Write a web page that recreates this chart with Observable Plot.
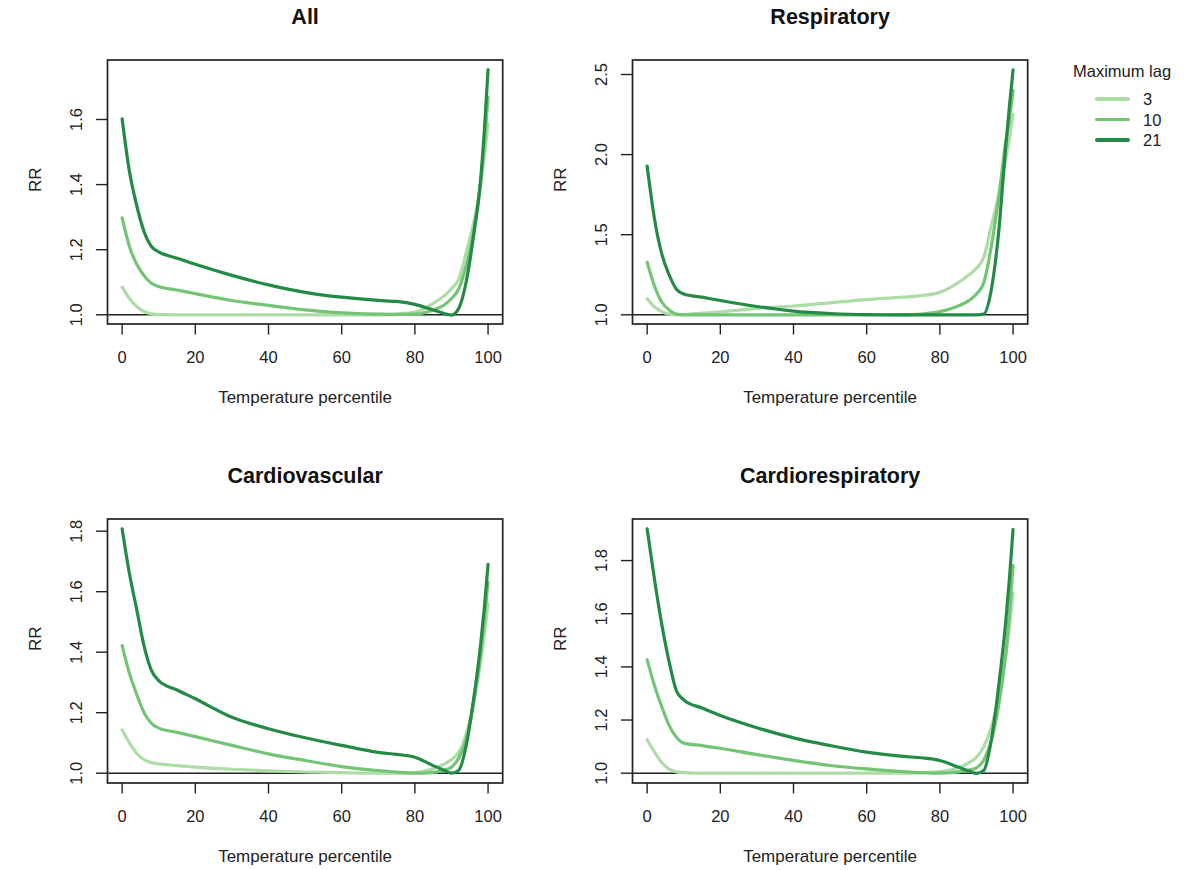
<!DOCTYPE html>
<html><head><meta charset="utf-8">
<script src="https://cdn.jsdelivr.net/npm/d3@7"></script>
<script src="https://cdn.jsdelivr.net/npm/@observablehq/plot@0.6"></script>
<style>
body{margin:0;background:#fff;font-family:"Liberation Sans",Arial,sans-serif;}
#wrap{position:relative;width:1204px;height:870px;overflow:hidden;background:#fff;}
.panel{position:absolute;}
.legend{position:absolute;left:1060px;top:62px;width:140px;color:#222;font-size:16.5px;}
.legend .ttl{position:absolute;left:13px;top:0;white-space:nowrap;}
.legend .row{position:absolute;left:35px;height:20px;}
.legend .sw{position:absolute;left:0;top:8px;width:35px;height:3.5px;border-radius:2px;}
.legend .lb{position:absolute;left:48px;top:0;line-height:20px;}
</style></head><body><div id="wrap"></div>
<script>
// ---- data ----
const pct = [0,2,4,6,8,10,15,20,30,40,50,60,70,75,80,85,88,90,92,94,96,98,99,100];
const lags = ["3","10","21"];
const lagColors = ["#aedca6","#74c476","#238b45"];
const panelTitles = ["All","Respiratory","Cardiovascular","Cardiorespiratory"];
const xTicks = [0,20,40,60,80,100];

const all_lag3  = [1.085,1.05,1.025,1.01,1.003,1.001,1.0,1.0,1.0,1.0,1.0,1.0,1.0,1.002,1.008,1.035,1.058,1.08,1.11,1.19,1.28,1.40,1.49,1.587];
const all_lag10 = [1.298,1.21,1.155,1.12,1.097,1.087,1.076,1.065,1.044,1.029,1.015,1.006,1.002,1.001,1.002,1.015,1.03,1.05,1.08,1.15,1.25,1.41,1.53,1.668];
const all_lag21 = [1.602,1.44,1.335,1.255,1.21,1.193,1.174,1.155,1.121,1.092,1.069,1.054,1.044,1.041,1.032,1.015,1.004,0.999,1.02,1.10,1.24,1.42,1.57,1.753];

const resp_lag3  = [1.10,1.05,1.02,1.005,1.0,1.002,1.01,1.018,1.04,1.055,1.075,1.095,1.11,1.12,1.14,1.2,1.25,1.29,1.36,1.55,1.74,1.97,2.1,2.25];
const resp_lag10 = [1.328,1.18,1.08,1.03,1.005,1.0,1.0,1.0,1.0,1.0,1.0,1.0,1.0,1.005,1.02,1.055,1.09,1.13,1.2,1.42,1.72,2.08,2.22,2.40];
const resp_lag21 = [1.928,1.6,1.38,1.25,1.16,1.13,1.11,1.089,1.052,1.023,1.008,1.001,1.0,1.0,1.0,1.0,1.0,1.0,1.005,1.15,1.5,2.05,2.3,2.529];

const cardio_lag3  = [1.143,1.1,1.065,1.045,1.035,1.031,1.025,1.02,1.013,1.008,1.004,1.002,1.0,1.0,1.002,1.015,1.03,1.045,1.07,1.13,1.23,1.37,1.46,1.56];
const cardio_lag10 = [1.422,1.33,1.26,1.2,1.165,1.149,1.135,1.121,1.092,1.064,1.042,1.022,1.009,1.004,1.0,1.003,1.01,1.02,1.05,1.11,1.23,1.4,1.51,1.631];
const cardio_lag21 = [1.808,1.66,1.54,1.42,1.34,1.306,1.275,1.246,1.185,1.147,1.117,1.092,1.069,1.062,1.053,1.025,1.01,1.0,1.01,1.09,1.24,1.43,1.55,1.69];

const cr_lag3  = [1.126,1.08,1.04,1.015,1.005,1.002,1.0,1.0,1.0,1.0,1.0,1.0,1.0,1.002,1.006,1.02,1.04,1.06,1.1,1.17,1.28,1.44,1.55,1.677];
const cr_lag10 = [1.427,1.33,1.25,1.18,1.135,1.113,1.104,1.094,1.07,1.048,1.029,1.016,1.006,1.002,1.0,1.005,1.012,1.02,1.05,1.12,1.25,1.45,1.6,1.781];
const cr_lag21 = [1.919,1.73,1.56,1.42,1.31,1.276,1.245,1.217,1.171,1.133,1.104,1.079,1.063,1.058,1.048,1.023,1.008,0.999,1.01,1.12,1.32,1.57,1.73,1.917];

const yTicksAll = [1.0,1.2,1.4,1.6];
const yTicksResp = [1.0,1.5,2.0,2.5];
const yTicksCardio = [1.0,1.2,1.4,1.6,1.8];
const yTicksCR = [1.0,1.2,1.4,1.6,1.8];

const yDomAll = [0.9717,1.7828];
const yDomResp = [0.9426,2.5905];
const yDomCardio = [0.9676,1.8403];
const yDomCR = [0.9631,1.9564];

// ---- build ----
const panels = [
  {series:[all_lag3,all_lag10,all_lag21], ticks:yTicksAll, dom:yDomAll, left:0, top:0},
  {series:[resp_lag3,resp_lag10,resp_lag21], ticks:yTicksResp, dom:yDomResp, left:525.1, top:0},
  {series:[cardio_lag3,cardio_lag10,cardio_lag21], ticks:yTicksCardio, dom:yDomCardio, left:0, top:459},
  {series:[cr_lag3,cr_lag10,cr_lag21], ticks:yTicksCR, dom:yDomCR, left:525.1, top:459}
];
const wrap = document.getElementById("wrap");
const ink = "#222";
panels.forEach((p, i) => {
  const rows = [];
  p.series.forEach((vals, j) => vals.forEach((v, k) => rows.push({x: pct[k], rr: v, lag: lags[j]})));
  const chart = Plot.plot({
    width: 526, height: 435,
    marginLeft: 107, marginRight: 23.8, marginTop: 59.5, marginBottom: 111.5,
    style: {background: "transparent", overflow: "visible", fontFamily: "'Liberation Sans', Arial, sans-serif", color: ink},
    x: {domain: [-4, 104]},
    y: {domain: p.dom},
    color: {domain: lags, range: lagColors},
    marks: [
      Plot.ruleY([1], {stroke: ink, strokeWidth: 1.4}),
      Plot.line(rows, {x: "x", y: "rr", z: "lag", stroke: "lag", strokeWidth: 3.2, curve: "monotone-x"}),
      Plot.frame({stroke: ink, strokeWidth: 1.7}),
      Plot.axisX({ticks: xTicks, tickSize: 11, tickPadding: 16, fontSize: 16.5, label: null, color: ink, strokeWidth: 1.4}),
      Plot.axisY({ticks: p.ticks, tickSize: 11, tickRotate: -90, tickPadding: 14.5, fontSize: 16.5, tickFormat: d3.format(".1f"), label: null, color: ink, strokeWidth: 1.4}),
      Plot.text(["Temperature percentile"], {frameAnchor: "bottom", lineAnchor: "middle", dy: 73.5, text: d => d, fontSize: 17, fill: ink}),
      Plot.text(["RR"], {frameAnchor: "left", lineAnchor: "middle", dx: -72, rotate: -90, text: d => d, fontSize: 17, fill: ink}),
      Plot.text([panelTitles[i]], {frameAnchor: "top", lineAnchor: "middle", dy: -43, text: d => d, fontSize: 21.5, fontWeight: "bold", fill: "#111"})
    ]
  });
  const div = document.createElement("div");
  div.className = "panel";
  div.style.left = p.left + "px";
  div.style.top = p.top + "px";
  div.appendChild(chart);
  wrap.appendChild(div);
});

// legend
const lg = document.createElement("div");
lg.className = "legend";
lg.innerHTML = `<div class="ttl">Maximum lag</div>` + lags.map((l, j) =>
  `<div class="row" style="top:${27 + j * 20.7}px"><div class="sw" style="background:${lagColors[j]}"></div><div class="lb">${l}</div></div>`).join("");
wrap.appendChild(lg);
</script></body></html>
